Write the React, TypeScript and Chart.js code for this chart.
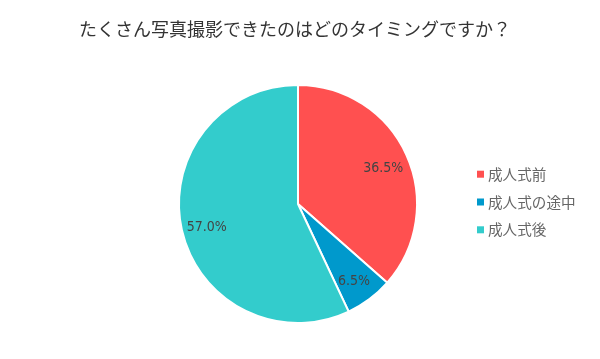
import React, { useEffect, useRef } from "react";
import { Chart, registerables } from "chart.js";

Chart.register(...registerables);

const titleText = "たくさん写真撮影できたのはどのタイミングですか？";
const categories = ["成人式前", "成人式の途中", "成人式後"];
const values = [36.5, 6.5, 57.0];
const colors = ["#FF5050", "#0099CC", "#33CCCC"];

const labelPlugin = {
  id: "sliceLabels",
  afterDatasetsDraw(chart: any) {
    const ctx = chart.ctx;
    const meta = chart.getDatasetMeta(0);
    const data = chart.data.datasets[0].data as number[];
    ctx.save();
    ctx.font = "14px 'DejaVu Sans Condensed'";
    ctx.fillStyle = "#444444";
    ctx.textAlign = "center";
    ctx.textBaseline = "middle";
    meta.data.forEach((arc: any, i: number) => {
      const p = arc.getProps(["x", "y", "startAngle", "endAngle", "outerRadius"], true);
      const mid = (p.startAngle + p.endAngle) / 2;
      const r = p.outerRadius * 0.785;
      ctx.fillText(data[i].toFixed(1) + "%", p.x + Math.cos(mid) * r, p.y + Math.sin(mid) * r + 3);
    });
    ctx.restore();
  },
};

const titleLegendPlugin = {
  id: "titleLegend",
  afterDraw(chart: any) {
    const ctx = chart.ctx;
    const area = chart.chartArea;
    ctx.save();
    ctx.font = "18px 'Noto Sans CJK JP'";
    ctx.fillStyle = "#333333";
    ctx.textAlign = "center";
    ctx.textBaseline = "middle";
    ctx.fillText(titleText, chart.width / 2 - 5, 29);

    ctx.font = "14.6px 'Noto Sans CJK JP'";
    ctx.textAlign = "left";
    const cy = (area.top + area.bottom) / 2 - 2;
    categories.forEach((c, i) => {
      const y = cy + (i - 1) * 27.8;
      ctx.fillStyle = colors[i];
      ctx.fillRect(area.right + 11, y - 3.5, 7, 7);
      ctx.fillStyle = "#666666";
      ctx.fillText(c, area.right + 22, y);
    });
    ctx.restore();
  },
};

export default function App() {
  const ref = useRef<HTMLCanvasElement>(null);
  useEffect(() => {
    document.body.style.margin = "0";
    const chart = new Chart(ref.current!, {
      type: "pie",
      data: {
        labels: categories,
        datasets: [
          {
            data: values,
            backgroundColor: colors,
            borderColor: "#ffffff",
            borderWidth: 2,
          },
        ],
      },
      options: {
        animation: false,
        responsive: false,
        layout: { padding: { left: 130, right: 134, top: 84, bottom: 35 } },
        plugins: {
          title: { display: false },
          legend: { display: false },
          tooltip: { enabled: false },
        },
      },
      plugins: [labelPlugin, titleLegendPlugin],
    });
    return () => chart.destroy();
  }, []);
  return (
    <div style={{ width: 600, height: 359, background: "#fff" }}>
      <canvas ref={ref} width={600} height={359} />
    </div>
  );
}
